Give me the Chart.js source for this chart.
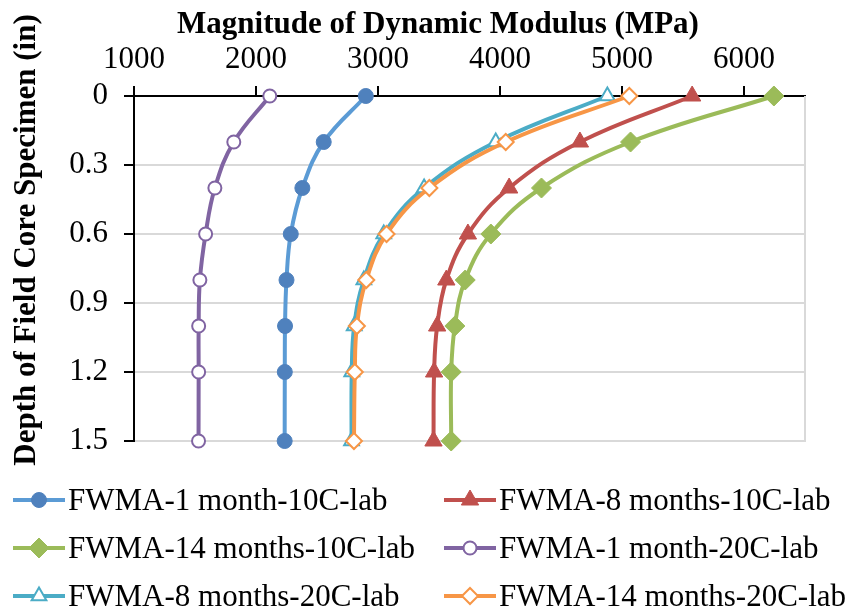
<!DOCTYPE html>
<html>
<head>
<meta charset="utf-8">
<script src="https://cdn.jsdelivr.net/npm/chart.js@4.4.1/dist/chart.umd.min.js"></script>
<style>
  html, body { margin: 0; padding: 0; background: #fff; }
  #wrap { position: relative; width: 850px; height: 613px; }
  #legend { position: absolute; left: 0; top: 476px; width: 850px; height: 137px;
            font-family: 'Liberation Serif', 'Times New Roman', serif; font-size: 31px; color: #000; }
  .item { position: absolute; height: 48px; display: flex; align-items: center; white-space: nowrap; }
  .item canvas { display: block; }
</style>
</head>
<body>
<div id="wrap">
  <canvas id="chart" width="850" height="613"></canvas>
  <div id="legend"></div>
</div>
<script>
// depth of field core specimen (in)
const depths = [0, 0.2, 0.4, 0.6, 0.8, 1.0, 1.2, 1.5];

// magnitude of dynamic modulus (MPa)
const fwma1m10C  = [2900, 2555, 2380, 2285, 2250, 2238, 2236, 2235];
const fwma8m10C  = [5575, 4655, 4075, 3737, 3560, 3485, 3460, 3455];
const fwma14m10C = [6245, 5070, 4340, 3925, 3715, 3630, 3600, 3600];
const fwma1m20C  = [2113, 1818, 1663, 1587, 1540, 1530, 1530, 1529];
const fwma8m20C  = [4880, 3965, 3378, 3047, 2884, 2805, 2785, 2783];
const fwma14m20C = [5060, 4047, 3421, 3070, 2904, 2827, 2810, 2803];

const xTickValues = [1000, 2000, 3000, 4000, 5000, 6000];
const yTickValues = [0, 0.3, 0.6, 0.9, 1.2, 1.5];

const FONT = "'Liberation Serif', 'Times New Roman', serif";

function pts(vals) {
  return vals.map((v, i) => ({ x: v, y: depths[i] }));
}

function series(label, vals, line, marker, style, radius, open) {
  return {
    label: label,
    data: pts(vals),
    showLine: true,
    borderColor: line,
    borderWidth: 4,
    tension: 0.4,
    pointStyle: style,
    pointRadius: radius,
    pointHoverRadius: radius,
    pointBackgroundColor: open ? '#ffffff' : marker,
    pointBorderColor: marker,
    pointBorderWidth: open ? 2 : 1,
    clip: false
  };
}

const datasets = [
  series('FWMA-1 month-10C-lab',   fwma1m10C,  '#5B9BD5', '#4F81BD', 'circle',   7.5, false),
  series('FWMA-8 months-10C-lab',  fwma8m10C,  '#C0504D', '#C0504D', 'triangle', 10,  false),
  series('FWMA-14 months-10C-lab', fwma14m10C, '#9BBB59', '#9BBB59', 'rectRot',  10,  false),
  series('FWMA-1 month-20C-lab',   fwma1m20C,  '#8064A2', '#8064A2', 'circle',   6.5, true),
  series('FWMA-8 months-20C-lab',  fwma8m20C,  '#4BACC6', '#4BACC6', 'triangle', 8.5, true),
  series('FWMA-14 months-20C-lab', fwma14m20C, '#F79646', '#F79646', 'rectRot',  8,   true)
];
// later series drawn on top, like the original
datasets.forEach((d, i) => { d.order = datasets.length - i; });

const extras = {
  id: 'extras',
  beforeDatasetsDraw(chart) {
    const { ctx, chartArea: a } = chart;
    ctx.save();
    ctx.strokeStyle = '#D9D9D9';
    ctx.lineWidth = 2;
    ctx.beginPath();
    ctx.moveTo(a.right, a.top);
    ctx.lineTo(a.right, a.bottom + 1);
    ctx.stroke();
    ctx.restore();
  },
  afterDraw(chart) {
    const ctx = chart.ctx;
    ctx.save();
    ctx.fillStyle = '#000';
    ctx.font = 'bold 31px ' + FONT;
    ctx.textAlign = 'center';
    ctx.textBaseline = 'alphabetic';
    ctx.fillText('Magnitude of Dynamic Modulus (MPa)', 438, 33);
    ctx.translate(35, 240);
    ctx.rotate(-Math.PI / 2);
    ctx.fillText('Depth of Field Core Specimen (in)', 0, 0);
    ctx.restore();
  }
};

const chart = new Chart(document.getElementById('chart'), {
  type: 'scatter',
  data: { datasets: datasets },
  options: {
    responsive: false,
    animation: false,
    events: [],
    layout: { padding: { left: 0, top: 0, right: 45, bottom: 172 } },
    plugins: { legend: { display: false }, tooltip: { enabled: false } },
    scales: {
      x: {
        type: 'linear',
        position: 'top',
        min: 1000,
        max: 6500,
        afterBuildTicks: s => { s.ticks = xTickValues.map(v => ({ value: v })); },
        afterFit: s => { s.height = 96; },
        grid: { drawOnChartArea: false, color: '#000', lineWidth: 2, tickLength: 10 },
        border: { color: '#000', width: 2 },
        ticks: {
          color: '#000',
          font: { family: FONT, size: 31 },
          padding: 8,
          maxRotation: 0,
          callback: v => String(v)
        }
      },
      y: {
        type: 'linear',
        reverse: true,
        min: 0,
        max: 1.5,
        afterBuildTicks: s => { s.ticks = yTickValues.map(v => ({ value: v })); },
        afterFit: s => { s.width = 134; },
        grid: {
          color: c => (c.tick && c.tick.value === 0) ? 'rgba(0,0,0,0)' : '#D9D9D9',
          lineWidth: 2,
          tickColor: '#000',
          tickWidth: 2,
          tickLength: 10
        },
        border: { color: '#000', width: 2 },
        ticks: {
          color: '#000',
          font: { family: FONT, size: 31 },
          padding: 16,
          callback: v => String(Number(v.toFixed(1)))
        }
      }
    }
  },
  plugins: [extras]
});

// legend: line with marker, two columns
const legend = document.getElementById('legend');
datasets.forEach((d, i) => {
  const col = i % 2, row = Math.floor(i / 2);
  const item = document.createElement('div');
  item.className = 'item';
  item.style.left = (col === 0 ? 10 : 441) + 'px';
  item.style.top = (row * 48) + 'px';
  const c = document.createElement('canvas');
  c.width = 58; c.height = 30;
  const g = c.getContext('2d');
  g.strokeStyle = d.borderColor;
  g.lineWidth = 4;
  g.beginPath(); g.moveTo(3, 15); g.lineTo(55, 15); g.stroke();
  g.fillStyle = d.pointBackgroundColor;
  g.strokeStyle = d.pointBorderColor;
  g.lineWidth = d.pointBorderWidth;
  Chart.helpers.drawPoint(g, { pointStyle: d.pointStyle, radius: d.pointRadius, rotation: 0, borderWidth: d.pointBorderWidth }, 29, 15);
  const t = document.createElement('span');
  t.textContent = d.label;
  item.appendChild(c);
  item.appendChild(t);
  legend.appendChild(item);
});
</script>
</body>
</html>
